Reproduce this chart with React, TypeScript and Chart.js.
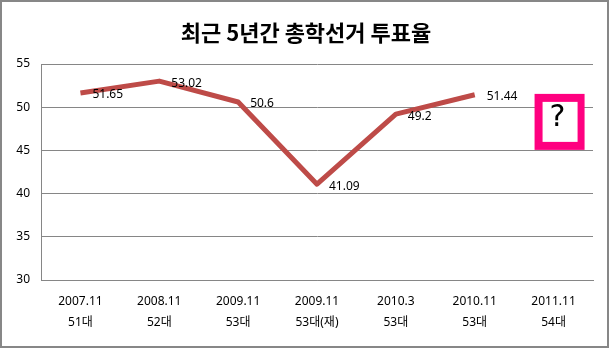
import React, { useEffect, useRef } from "react";
import { Chart, registerables } from "chart.js";

Chart.register(...registerables);

const titleText = "최근 5년간 총학선거 투표율";
const categories: string[][] = [
  ["2007.11", "51대"],
  ["2008.11", "52대"],
  ["2009.11", "53대"],
  ["2009.11", "53대(재)"],
  ["2010.3", "53대"],
  ["2010.11", "53대"],
  ["2011.11", "54대"],
];
const turnout: (number | null)[] = [51.65, 53.02, 50.6, 41.09, 49.2, 51.44, null];
const yTicks = { min: 30, max: 55, step: 5 };
const unknownIndex = 6;
const unknownLabel = "?";
const unknownCenterValue = 48.3;

const FONT = "'Noto Sans', 'Noto Sans CJK KR', sans-serif";

const decorPlugin = {
  id: "decor",
  beforeDraw(chart: any) {
    const ctx = chart.ctx;
    ctx.save();
    ctx.fillStyle = "#ffffff";
    ctx.fillRect(0, 0, chart.width, chart.height);
    ctx.strokeStyle = "#878787";
    ctx.lineWidth = 2;
    ctx.strokeRect(1, 1, 607, 346);
    ctx.fillStyle = "#000000";
    ctx.font = "bold 22px 'Noto Sans CJK KR', sans-serif";
    ctx.textAlign = "center";
    ctx.textBaseline = "middle";
    ctx.fillText(titleText, 306, 33);
    ctx.restore();
  },
  afterDatasetsDraw(chart: any) {
    const ctx = chart.ctx;
    const meta = chart.getDatasetMeta(0);
    ctx.save();
    ctx.fillStyle = "#000000";
    ctx.font = "12px " + FONT;
    ctx.textAlign = "left";
    ctx.textBaseline = "middle";
    meta.data.forEach((pt: any, i: number) => {
      const v = turnout[i];
      if (v === null || v === undefined) return;
      ctx.fillText(String(v), pt.x + 12, pt.y + 2);
    });
    // question box
    const xs = chart.scales.x;
    const ys = chart.scales.y;
    const cx = xs.getPixelForValue(unknownIndex) + 6;
    const cy = ys.getPixelForValue(unknownCenterValue);
    const w = 50;
    const h = 56;
    ctx.fillStyle = "#FF0080";
    ctx.fillRect(cx - w / 2, cy - h / 2, w, h);
    ctx.fillStyle = "#ffffff";
    ctx.fillRect(cx - w / 2 + 8, cy - h / 2 + 8, w - 15, h - 16);
    ctx.fillStyle = "#000000";
    ctx.font = "30px 'DejaVu Sans', sans-serif";
    ctx.textAlign = "center";
    ctx.textBaseline = "middle";
    ctx.fillText(unknownLabel, cx - 2, cy - 4);
    ctx.restore();
  },
};

export default function App() {
  const ref = useRef<HTMLCanvasElement | null>(null);
  useEffect(() => {
    document.body.style.margin = "0";
    const canvas = ref.current;
    if (!canvas) return;
    const chart = new Chart(canvas, {
      type: "line",
      data: {
        labels: categories,
        datasets: [
          {
            data: turnout,
            borderColor: "#BE4B48",
            borderWidth: 5,
            borderJoinStyle: "round",
            pointRadius: 0,
            fill: false,
            tension: 0,
            spanGaps: false,
          },
        ],
      },
      options: {
        responsive: false,
        animation: false,
        devicePixelRatio: 1,
        layout: { padding: { left: 0, top: 64, right: 18, bottom: 0 } },
        plugins: {
          legend: { display: false },
          title: { display: false },
          tooltip: { enabled: false },
        },
        scales: {
          x: {
            type: "category",
            offset: true,
            grid: { display: false, drawTicks: false },
            border: { display: true, color: "#868686", width: 1 },
            ticks: {
              color: "#000000",
              font: { family: FONT, size: 12, lineHeight: 1.75 },
              padding: 11,
              maxRotation: 0,
              autoSkip: false,
            },
            afterFit(scale: any) {
              scale.height = 71;
            },
          },
          y: {
            min: yTicks.min,
            max: yTicks.max,
            grid: { color: "#868686", lineWidth: 1, drawTicks: false },
            border: { display: true, color: "#868686", width: 1 },
            ticks: {
              stepSize: yTicks.step,
              color: "#000000",
              font: { family: FONT, size: 12 },
              padding: 11,
            },
            afterFit(scale: any) {
              scale.width = 41;
            },
          },
        },
      },
      plugins: [decorPlugin],
    } as any);
    return () => chart.destroy();
  }, []);
  return (
    <div style={{ width: 611, height: 351 }}>
      <canvas ref={ref} width={611} height={351} style={{ display: "block" }} />
    </div>
  );
}
